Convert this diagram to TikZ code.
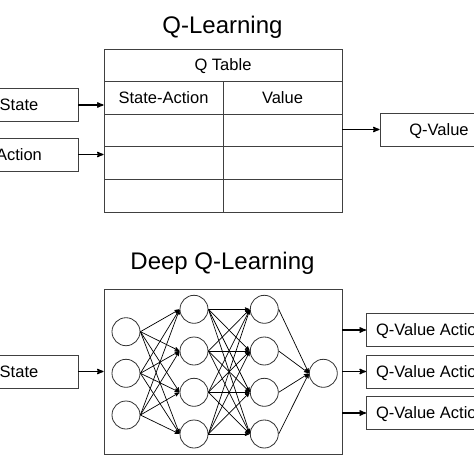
\documentclass[tikz,border=0pt]{standalone}
\usepackage{fontspec}
\setmainfont{Liberation Sans}
\usepackage{tikz}
\usetikzlibrary{arrows}
\newcommand{\qlabelfont}{\fontsize{16.5}{19}\selectfont}
\newcommand{\qtitlefont}{\fontsize{24}{28}\selectfont}

\begin{document}
\begin{tikzpicture}[x=1pt,y=-1pt,>=stealth']
\tikzset{
    box/.style={%
        draw=black!75, line width=0.9pt,
        rectangle,
        inner sep=0pt,
        minimum height=33pt,
        minimum width=118pt,
        font=\qlabelfont,
        text height=12pt, text depth=1pt
        },
    cell/.style={%
        box,
        minimum height=32.6pt,
        minimum width=119pt
        },
    neuron/.style={%
        draw=black!80, line width=0.8pt,
        circle,
        inner sep=0pt,
        minimum size=28pt
        },
    title/.style={font=\qtitlefont, anchor=base},
    feed/.style={->, line width=1.3pt},
    link/.style={->, line width=0.7pt, shorten >=0.5pt},
}
\useasboundingbox[fill=white] (0,0) rectangle (474,474);
%%%Q-LEARNING
\node[title] (qtitle) at (222.5,33) {Q-Learning};
\node[cell, minimum width=238pt] (qhead) at (223,65.3) {Q Table};
\node[cell] (sa) at (163.5,97.9) {State-Action};
\node[cell] (val) at (282.5,97.9) {Value};
\foreach \i/\y in {1/130.5, 2/163.1, 3/195.7} {
    \node[cell] (sa-\i) at (163.5,\y) {};
    \node[cell] (val-\i) at (282.5,\y) {};
}
\node[box] (state) at (19,105) {State};
\node[box] (action) at (19,154.5) {Action};
\node[box] (qvalue) at (439,129.5) {Q-Value};
\draw[feed] (state.east) -- (state.east -| qhead.west);
\draw[feed] (action.east) -- (action.east -| qhead.west);
\draw[feed] (qhead.east |- qvalue) -- (qvalue.west);
%%%DEEP Q-LEARNING
\node[title] (dtitle) at (222.5,269) {Deep Q-Learning};
\node[box, minimum width=238pt, minimum height=165pt] (net) at (223,371.5) {};
\node[box] (dstate) at (19,371.5) {State};
\foreach \i/\y in {1/330, 2/371.5, 3/413} {
    \node[box, minimum width=129pt, anchor=west, inner xsep=9pt, align=left] (qa-\i) at (366,\y) {Q-Value Action\hfill};
    \draw[feed] (net.east |- qa-\i) -- (qa-\i.west);
}
\draw[feed] (dstate.east) -- (dstate.east -| net.west);
%%%NEURONS
\foreach \i/\y in {1/331.7, 2/373.3, 3/415}
    \node[neuron] (a-\i) at (126,\y) {};
\foreach \i/\y in {1/309.3, 2/351, 3/392.3, 4/434} {
    \node[neuron] (b-\i) at (194,\y) {};
    \node[neuron] (c-\i) at (264.3,\y) {};
}
\node[neuron] (out) at (323.3,373.3) {};
%%%WEIGHTS
\foreach \i in {1,2,3}
    \foreach \j in {1,...,4}
        \draw[link] (a-\i.east) -- (b-\j.west);
\foreach \i in {1,...,4}
    \foreach \j in {1,...,4}
        \draw[link] (b-\i.east) -- (c-\j.west);
\foreach \i in {1,...,4}
    \draw[link] (c-\i.east) -- (out.west);
\end{tikzpicture}
\end{document}
